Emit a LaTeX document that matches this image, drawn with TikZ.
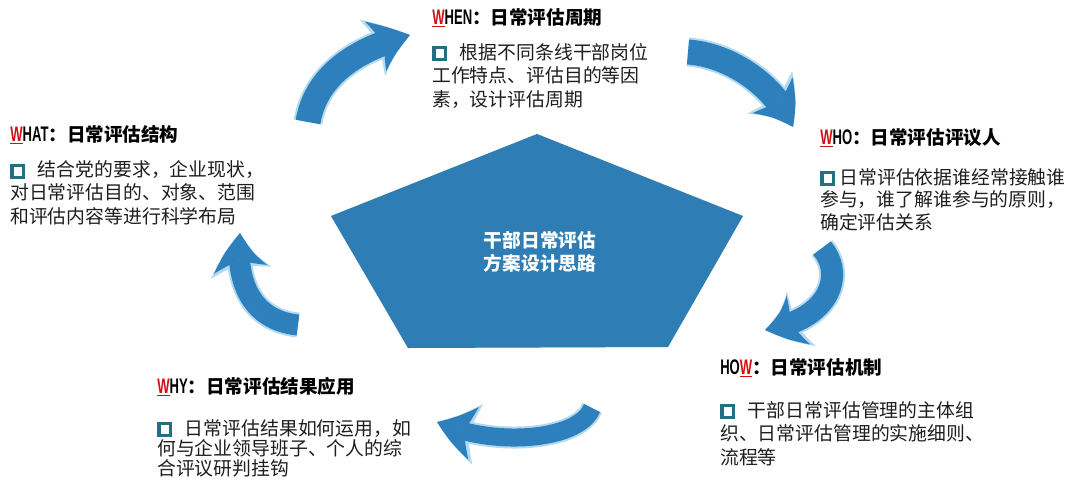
\documentclass[tikz,border=0pt]{standalone}
\usepackage{graphicx}
\usepackage{fontspec}
\setmainfont{Noto Sans CJK SC}
\newfontfamily\hlat{Liberation Sans}
\usetikzlibrary{arrows.meta,bending}

\definecolor{arrc}{HTML}{2E80BC}
\definecolor{glowc}{HTML}{B4DAF0}
\definecolor{pentc}{HTML}{2E7DB4}
\definecolor{bulc}{HTML}{236F84}
\definecolor{wred}{HTML}{D01010}
\definecolor{txtc}{HTML}{1E1E1E}

\newcommand{\bul}{\tikz[baseline=0pt]\draw[bulc, line width=2.3pt] (1.2pt,-0.3pt) rectangle (9.6pt,8.1pt);}
\newcommand{\Wr}{\textcolor{wred}{\underline{W}}}
\newcommand{\lat}[1]{\scalebox{0.62}[1]{\hlat\bfseries\fontsize{15pt}{16pt}\selectfont #1}}

\begin{document}
\begin{tikzpicture}[
    x=0.025cm, y=-0.025cm,
    head/.style={anchor=base west, inner sep=0pt, text=black, font=\bfseries\fontsize{13.2pt}{16pt}\selectfont},
    body/.style={anchor=base west, inner sep=0pt, align=left, text=txtc, font=\fontsize{13.4pt}{#1}\selectfont},
    core/.style={inner sep=0pt, align=center, text=white, font=\bfseries\fontsize{13.3pt}{16.4pt}\selectfont},
    band/.style={draw=arrc, line width=#1, -{Stealth[length=0.95cm, width=1.35cm, inset=0.25cm, line width=0pt, bend]}},
    halo/.style={draw=glowc, line width=#1, -{Stealth[length=1.05cm, width=1.55cm, inset=0.25cm, line width=0pt, bend]}}
  ]
  \useasboundingbox (0,0) rectangle (1080,489);

  % Centre pentagon
  \coordinate (p1) at (537,134);
  \coordinate (p2) at (743,216);
  \coordinate (p3) at (668,347);
  \coordinate (p4) at (408,348);
  \coordinate (p5) at (331,216);
  \fill[black!40, opacity=0.35, xshift=0.08cm, yshift=-0.1cm] (p1) -- (p2) -- (p3) -- (p4) -- (p5) -- cycle;
  \fill[pentc] (p1) -- (p2) -- (p3) -- (p4) -- (p5) -- cycle;
  \node[core] (idea) at (540,252) {干部日常评估\\方案设计思路};

  % WHAT (body placed by its last baseline)
  \node[head] (what) at (10,141) {\lat{\Wr HAT}：日常评估结构};
  \node[body=16.4pt] (whatb) at (10,223) {\bul\hspace{9pt}结合党的要求，企业现状，\\对日常评估目的、对象、范围\\和评估内容等进行科学布局};

  % WHEN
  \node[head] (when) at (432,24) {\lat{\Wr HEN}：日常评估周期};
  \node[body=16.7pt] (whenb) at (432,106) {\bul\hspace{9pt}根据不同条线干部岗位\\工作特点、评估目的等因\\素，设计评估周期};

  % WHO
  \node[head] (who) at (820,144) {\lat{\Wr HO}：日常评估评议人};
  \node[body=16pt] (whob) at (820,229) {\bul\hspace{3pt}日常评估依据谁经常接触谁\\参与，谁了解谁参与的原则，\\确定评估关系};

  % HOW
  \node[head] (how) at (720,374) {\lat{HO\Wr}：日常评估机制};
  \node[body=16.7pt] (howb) at (720,464) {\bul\hspace{9pt}干部日常评估管理的主体组\\织、日常评估管理的实施细则、\\流程等};

  % WHY
  \node[head] (why) at (157,393) {\lat{\Wr HY}：日常评估结果应用};
  \node[body=14.2pt] (whyb) at (157,475) {\bul\hspace{9pt}日常评估结果如何运用，如\\何与企业领导班子、个人的综\\合评议研判挂钩};

  % Cycle arrows
  \coordinate (a0) at (308,122); \coordinate (a1) at (410,35);
  \coordinate (b0) at (688,52);  \coordinate (b1) at (793,127);
  \coordinate (c0) at (822,248); \coordinate (c1) at (765,330);
  \coordinate (d0) at (592,408); \coordinate (d1) at (437,422);
  \coordinate (e0) at (298,325); \coordinate (e1) at (240,233);

  \draw[halo=0.725cm] (a0) .. controls (315,80) and (350,50) .. (a1);
  \draw[band=0.625cm] (a0) .. controls (315,80) and (350,50) .. (a1);
  \draw[halo=0.725cm] (b0) .. controls (730,55) and (775,85) .. (b1);
  \draw[band=0.625cm] (b0) .. controls (730,55) and (775,85) .. (b1);
  \draw[halo=0.65cm] (c0) .. controls (845,275) and (830,320) .. (c1);
  \draw[band=0.55cm] (c0) .. controls (845,275) and (830,320) .. (c1);
  \draw[halo=0.55cm] (d0) .. controls (580,440) and (495,448) .. (d1);
  \draw[band=0.45cm] (d0) .. controls (580,440) and (495,448) .. (d1);
  \draw[halo=0.625cm] (e0) .. controls (250,320) and (235,280) .. (e1);
  \draw[band=0.525cm] (e0) .. controls (250,320) and (235,280) .. (e1);

\end{tikzpicture}
\end{document}
